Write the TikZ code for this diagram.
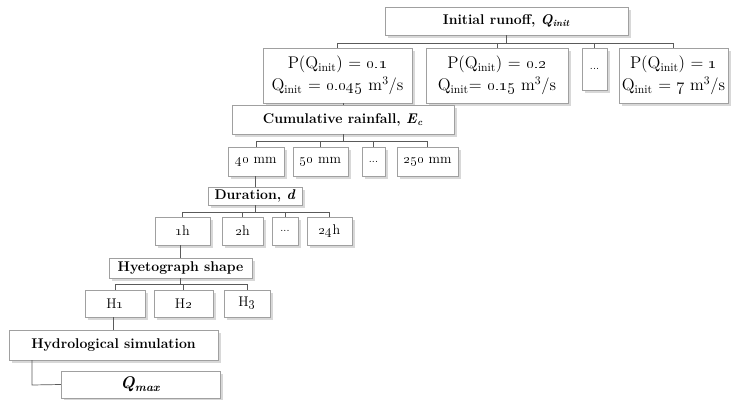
\documentclass[tikz,border=0pt]{standalone}
\usepackage{tikz}
\usetikzlibrary{shapes,positioning,shadows,calc}
\usepackage{xcolor}
\definecolor{cadre}{RGB}{160,160,160}
\definecolor{lien}{RGB}{90,90,90}
\tikzstyle{boite}=[draw=cadre, fill=white, inner sep=0pt, align=center, font=\large,
    drop shadow={shadow xshift=2.2pt, shadow yshift=-2.2pt, fill=black!30}]
\tikzstyle{valeur}=[boite, font=\Large]
\tikzstyle{titre}=[boite, font=\large\bfseries]
\tikzstyle{lien}=[draw=lien, line width=0.6pt]

\begin{document}
\begin{tikzpicture}[x=0.03cm, y=-0.03cm]

\useasboundingbox (0,0) rectangle (734,400);

% niveau 1
\node[titre, minimum width=7.29cm, minimum height=0.84cm] (init) at (506.5,21)
    {Initial runoff, \textit{Q}\textsubscript{\textit{init}}};
\node[valeur, minimum width=4.47cm, minimum height=1.65cm] (p1) at (337.5,75.5)
    {P(Q\textsubscript{init}) = \oldstylenums{0.1}\\[1pt] Q\textsubscript{init} = \oldstylenums{0.045} m$^3$/s};
\node[valeur, minimum width=4.26cm, minimum height=1.65cm] (p2) at (497,75.5)
    {P(Q\textsubscript{init}) = \oldstylenums{0.2}\\[1pt] Q\textsubscript{init}= \oldstylenums{0.15} m$^3$/s};
\node[boite, minimum width=0.75cm, minimum height=1.26cm] (pdots) at (594.5,69) {\small...};
\node[valeur, minimum width=3.27cm, minimum height=1.65cm] (p4) at (673.5,75.5)
    {P(Q\textsubscript{init}) = \oldstylenums{1}\\[1pt] Q\textsubscript{init} = \oldstylenums{7} m$^3$/s};

% niveau 2
\node[titre, minimum width=6.66cm, minimum height=0.87cm] (cum) at (343,119.5)
    {Cumulative rainfall, \textit{E}\textsubscript{\textit{c}}};
\node[boite, minimum width=1.68cm, minimum height=0.87cm] (e40) at (256,161.5) {\oldstylenums{40} mm};
\node[boite, minimum width=1.65cm, minimum height=0.87cm] (e50) at (320.5,161.5) {\oldstylenums{50} mm};
\node[boite, minimum width=0.69cm, minimum height=0.87cm] (edots) at (373.5,161.5) {\small...};
\node[boite, minimum width=1.83cm, minimum height=0.87cm] (e250) at (427.5,161.5) {\oldstylenums{250} mm};

% niveau 3
\node[titre, minimum width=2.82cm, minimum height=0.54cm] (dur) at (255,196)
    {Duration, \textit{d}};
\node[boite, minimum width=1.65cm, minimum height=0.84cm] (d1) at (182.5,231) {\oldstylenums{1}h};
\node[boite, minimum width=1.23cm, minimum height=0.84cm] (d2) at (242.5,231) {\oldstylenums{2}h};
\node[boite, minimum width=0.78cm, minimum height=0.84cm] (ddots) at (285,231) {\small...};
\node[boite, minimum width=1.35cm, minimum height=0.84cm] (d24) at (329.5,231) {\oldstylenums{24}h};

% niveau 4
\node[titre, minimum width=4.29cm, minimum height=0.6cm] (hyet) at (180.5,268)
    {Hyetograph shape};
\node[boite, minimum width=1.8cm, minimum height=0.81cm] (h1) at (115,303.5) {H\oldstylenums{1}};
\node[boite, minimum width=1.77cm, minimum height=0.81cm] (h2) at (183.5,303.5) {H\oldstylenums{2}};
\node[boite, minimum width=1.38cm, minimum height=0.81cm] (h3) at (247,303.5) {H\oldstylenums{3}};

% simulation
\node[titre, minimum width=6.27cm, minimum height=0.9cm] (hydro) at (113.5,345)
    {Hydrological simulation};
\node[titre, minimum width=4.77cm, minimum height=0.81cm, font=\Large\bfseries] (qmax) at (140.5,384.5)
    {\textit{Q}\textsubscript{\textit{max}}};

% liens
\coordinate (b1) at ($(init.south)+(0,8)$);
\draw[lien] (init.south) -- (b1);
\draw[lien] (b1 -| p1.north) -- (b1 -| p4.north);
\foreach \n in {p1,p2,pdots,p4}
    \draw[lien] (b1 -| \n.north) -- (\n.north);

\draw[lien] (cum.north) -- (cum.north |- p1.south);
\coordinate (b2) at ($(cum.south)+(0,7)$);
\draw[lien] (cum.south) -- (b2);
\draw[lien] (b2 -| e40.north) -- (b2 -| e250.north);
\foreach \n in {e40,e50,edots,e250}
    \draw[lien] (b2 -| \n.north) -- (\n.north);

\draw[lien] (dur.north) -- (dur.north |- e40.south);
\coordinate (b3) at ($(dur.south)+(0,7)$);
\draw[lien] (dur.south) -- (b3);
\draw[lien] (b3 -| d1.north) -- (b3 -| d24.north);
\foreach \n in {d1,d2,ddots,d24}
    \draw[lien] (b3 -| \n.north) -- (\n.north);

\draw[lien] (hyet.north) -- (hyet.north |- d1.south);
\coordinate (b4) at ($(hyet.south)+(0,6)$);
\draw[lien] (hyet.south) -- (b4);
\draw[lien] (b4 -| h1.north) -- (b4 -| h3.north);
\foreach \n in {h1,h2,h3}
    \draw[lien] (b4 -| \n.north) -- (\n.north);

\draw[lien] (hydro.north) -- (hydro.north |- h1.south);
\coordinate (q) at (32,385);
\draw[lien] (q |- hydro.south) -- (q) -- (qmax.west);

\end{tikzpicture}
\end{document}
